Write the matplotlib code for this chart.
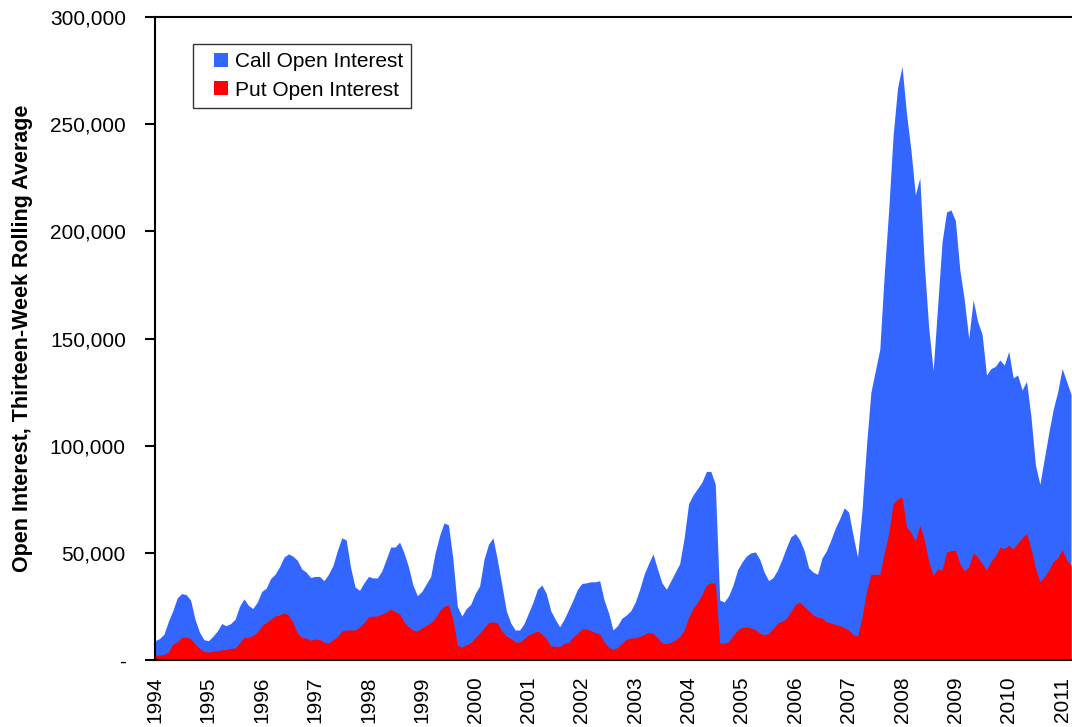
import matplotlib
matplotlib.use("Agg")
import matplotlib.pyplot as plt
from matplotlib.patches import Patch, Rectangle
from matplotlib.legend_handler import HandlerPatch
from matplotlib.ticker import FuncFormatter, MultipleLocator
import numpy as np

plt.rcParams['font.family'] = ['Liberation Sans', 'DejaVu Sans']

# Monthly readings (thousands), starting January 1994
start_year = 1994
call_oi = [
    9, 10, 12, 18, 23, 29, 31, 30.5, 28, 19, 13, 9.5,
    9, 11, 13.5, 17, 16, 17, 19, 25, 28.5, 25.5, 24, 27,
    32, 33.5, 38, 40, 43.5, 48, 49.5, 48.5, 46.5, 42.5, 41, 38.5,
    39, 39, 37, 40, 44, 51, 57, 56, 43, 34, 32.5, 36,
    39, 38.3, 38.3, 41.5, 47, 52.7, 52.7, 55, 50, 43.5, 35, 30,
    32, 35.5, 39, 50, 58, 64, 63, 47, 25, 20.5, 24, 26,
    31, 34.5, 47, 54, 57, 46.7, 35, 23, 17.3, 14, 14, 17,
    22, 27, 33, 35, 31, 23, 19, 15.5, 19, 23.5, 28, 33,
    35.7, 36, 36.5, 36.5, 37, 28, 22, 14, 16, 19.5, 21, 23,
    27, 33, 40, 45, 49.5, 42.5, 36, 33, 37, 41, 45, 57,
    73, 77, 80, 83, 88, 88, 82, 28, 27, 30, 35, 42,
    45.7, 48.5, 50, 50.4, 47, 41, 37, 38.5, 42, 47, 52.5, 57.5,
    59, 56, 51, 43, 41, 40, 47.6, 51, 56, 61.6, 66, 71,
    69, 58, 48, 70, 100, 125, 135, 145, 180, 210, 245, 267,
    277, 255, 238, 217, 225, 185, 155, 135, 165, 195, 209, 210,
    205, 182, 168, 150, 168, 158, 152, 133, 136, 137, 140, 137.6,
    144, 131.6, 133, 126, 130, 113.5, 91, 82, 94, 106, 117, 125,
    136, 130, 124,
]
put_oi = [
    2.3, 2.3, 2.5, 3.7, 7.5, 8.5, 10.5, 10.7, 10, 7.5, 5.5, 4,
    3.7, 4.2, 4.2, 4.8, 4.9, 5.4, 5.6, 8, 10.5, 10.5, 11.5, 13,
    16, 17.5, 19, 20.5, 21, 22, 21, 17.5, 12.6, 10.5, 10.2, 9.2,
    9.8, 9.5, 8.4, 7.9, 9.5, 10.7, 13.5, 14, 14, 14, 15.4, 17.5,
    20, 20.5, 20.5, 21.5, 22.4, 23.8, 22.5, 21.5, 17.8, 15.5, 14, 13.5,
    15, 16.3, 17.3, 19.5, 23, 25, 25.7, 19, 7, 6, 7.2, 8,
    10.5, 12.5, 15, 17.5, 17.8, 17.3, 13.5, 11.2, 10, 8.4, 8.4, 10,
    11.7, 12.6, 13.5, 12.2, 10, 6.5, 6.5, 6.3, 7.8, 8.2, 10.7, 12.5,
    14.5, 14.5, 13.7, 12.8, 12.1, 8.5, 6, 5, 5.8, 7.8, 9.6, 10.3,
    10.3, 11, 12, 12.8, 12.5, 10.5, 8, 7.6, 8.3, 9.3, 11, 14,
    20, 24, 27, 30.5, 35, 36, 36, 7.9, 7.9, 8.5, 11.5, 14,
    15.2, 15.4, 15, 14.2, 12.5, 11.7, 12.5, 14.5, 17.3, 18, 19.5, 22.5,
    26, 27, 25, 23, 21, 20, 19.6, 17.8, 17.3, 16.5, 16, 15.2,
    14, 11.7, 11.2, 20, 32, 40, 40, 40, 50, 59, 73, 75,
    76, 62, 59.5, 55.5, 63, 56, 46, 39.5, 42.5, 42, 50.4, 51,
    51.3, 45, 41.5, 43.5, 50, 48, 45, 42, 46, 48.5, 52.6, 52,
    53.5, 51.8, 54.6, 57, 59, 52, 43, 36.5, 38.9, 42, 45.9, 47.6,
    51.5, 46.7, 44.3,
]
year_labels = [str(y) for y in range(1994, 2012)]
series_labels = ["Call Open Interest", "Put Open Interest"]
call_color = "#3366FF"
put_color = "#FF0000"

x = start_year + np.arange(len(call_oi)) / 12.0
call = np.array(call_oi) * 1000
put = np.array(put_oi) * 1000

fig = plt.figure(figsize=(10.72, 7.27), dpi=100)
ax = fig.add_axes([155 / 1072, 1 - 660 / 727, 916 / 1072, 643 / 727])

ax.fill_between(x, 0, call, color=call_color, linewidth=0)
ax.fill_between(x, 0, put, color=put_color, linewidth=0)

ax.set_xlim(x[0], x[-1])
ax.set_ylim(0, 300000)

ax.yaxis.set_major_locator(MultipleLocator(50000))
ax.yaxis.set_major_formatter(FuncFormatter(lambda v, p: "-" if v == 0 else f"{int(v):,}"))
ax.set_xticks([int(s) for s in year_labels])
ax.set_xticklabels(year_labels, rotation=90)

ax.tick_params(axis='y', direction='out', length=7, width=1.5, pad=14, labelsize=15)
ax.tick_params(axis='x', length=0, pad=12, labelsize=15)

for s in ['left', 'bottom', 'top']:
    ax.spines[s].set_linewidth(1.5)
ax.spines['right'].set_visible(False)

ax.set_ylabel("Open Interest, Thirteen-Week Rolling Average", fontsize=15.5, fontweight='bold')
ax.yaxis.set_label_coords(-0.133, 0.5)


class SquareHandler(HandlerPatch):
    def create_artists(self, legend, orig_handle, xdescent, ydescent,
                       width, height, fontsize, trans):
        side = 14 * 72 / 100.0
        r = Rectangle((width - side - xdescent, -ydescent + (height - side) / 2),
                      side, side, facecolor=orig_handle.get_facecolor(),
                      edgecolor='none', transform=trans)
        return [r]


handles = [Patch(facecolor=call_color, edgecolor='none'),
           Patch(facecolor=put_color, edgecolor='none')]
leg = ax.legend(handles, series_labels, loc='upper left',
                bbox_to_anchor=((193 - 155) / 916, (660 - 44) / 643),
                borderaxespad=0, fontsize=15, frameon=True, fancybox=False,
                handlelength=1.3, handleheight=0.7, handletextpad=0.3,
                labelspacing=0.45, borderpad=0.4,
                handler_map={Patch: SquareHandler()})
leg.get_frame().set_edgecolor('black')
leg.get_frame().set_linewidth(1.0)

fig.savefig("out.png", dpi=100)
